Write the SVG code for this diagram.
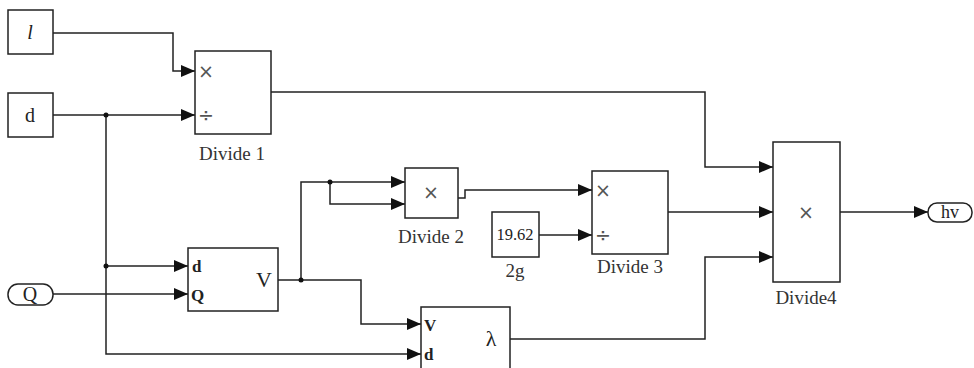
<svg xmlns="http://www.w3.org/2000/svg" width="974" height="368" viewBox="0 0 974 368">
<defs>
<marker id="arr" markerWidth="14" markerHeight="12" refX="14" refY="6" orient="auto" markerUnits="userSpaceOnUse">
<path d="M0,0 L14,6 L0,12 Z" fill="#111"/>
</marker>
</defs>
<style>
.blk{fill:#fff;stroke:#222;stroke-width:1.5}
.ln{fill:none;stroke:#222;stroke-width:1.5}
.t{font-family:"Liberation Serif","Times New Roman",serif;fill:#222}
.lab{font-size:19px;fill:#333}
.sym{font-family:"DejaVu Sans",sans-serif;font-size:19px;fill:#555}
.port{font-size:17px;font-weight:bold}
.dot{fill:#111}
</style>
<rect width="974" height="368" fill="#fff"/>
<g id="connectors">
<path class="ln" d="M53,33 L173,33 L173,71 L195,71" marker-end="url(#arr)"/>
<path class="ln" d="M53,115 L195,115" marker-end="url(#arr)"/>
<path class="ln" d="M106,115 L106,354 L421,354" marker-end="url(#arr)"/>
<path class="ln" d="M106,266 L188,266" marker-end="url(#arr)"/>
<path class="ln" d="M53,294 L188,294" marker-end="url(#arr)"/>
<path class="ln" d="M278,280 L361,280 L361,324 L421,324" marker-end="url(#arr)"/>
<path class="ln" d="M301,280 L301,182 L405,182" marker-end="url(#arr)"/>
<path class="ln" d="M330,182 L330,204 L405,204" marker-end="url(#arr)"/>
<path class="ln" d="M458,198 L465,198 L465,190 L592,190" marker-end="url(#arr)"/>
<path class="ln" d="M539,235 L592,235" marker-end="url(#arr)"/>
<path class="ln" d="M271,92 L705,92 L705,167 L773,167" marker-end="url(#arr)"/>
<path class="ln" d="M668,212 L773,212" marker-end="url(#arr)"/>
<path class="ln" d="M510,339 L705,339 L705,257 L773,257" marker-end="url(#arr)"/>
<path class="ln" d="M840,212 L928,212" marker-end="url(#arr)"/>
<circle class="dot" cx="106" cy="115" r="2.5"/>
<circle class="dot" cx="106" cy="266" r="2.5"/>
<circle class="dot" cx="301" cy="280" r="2.5"/>
<circle class="dot" cx="330" cy="182" r="2.5"/>
</g>
<g id="l">
<rect class="blk" x="8" y="10" width="45" height="44"/>
<text class="t" x="30" y="39" font-size="20" font-style="italic" text-anchor="middle">l</text>
</g>
<g id="d">
<rect class="blk" x="8" y="93" width="45" height="44"/>
<text class="t" x="30" y="122" font-size="20" text-anchor="middle">d</text>
</g>
<g id="Q">
<rect class="blk" x="8" y="284" width="45" height="21" rx="10"/>
<text class="t" x="30" y="301" font-size="20" text-anchor="middle">Q</text>
</g>
<g id="divide1">
<rect class="blk" x="195" y="51" width="76" height="83"/>
<text class="sym" x="198" y="78">×</text>
<text class="sym" x="198" y="122">÷</text>
<text class="t lab" x="232" y="160" text-anchor="middle">Divide 1</text>
</g>
<g id="vblock">
<rect class="blk" x="188" y="248" width="90" height="63"/>
<text class="t port" x="192" y="272">d</text>
<text class="t port" x="191" y="301">Q</text>
<text class="t" x="264" y="287" font-size="22" text-anchor="middle">V</text>
</g>
<g id="divide2">
<rect class="blk" x="405" y="168" width="53" height="50"/>
<text class="sym" x="431" y="199" text-anchor="middle">×</text>
<text class="t lab" x="431" y="243" text-anchor="middle">Divide 2</text>
</g>
<g id="const2g">
<rect class="blk" x="492" y="212" width="47" height="45"/>
<text class="t" x="515" y="240" font-size="16.5" text-anchor="middle">19.62</text>
<text class="t lab" x="515" y="277" text-anchor="middle">2g</text>
</g>
<g id="divide3">
<rect class="blk" x="592" y="171" width="76" height="83"/>
<text class="sym" x="595" y="197">×</text>
<text class="sym" x="595" y="242">÷</text>
<text class="t lab" x="630" y="273" text-anchor="middle">Divide 3</text>
</g>
<g id="lambda">
<rect class="blk" x="421" y="307" width="89" height="70"/>
<text class="t port" x="424" y="331">V</text>
<text class="t port" x="424" y="360">d</text>
<text class="t" x="491" y="346" font-size="22" text-anchor="middle">λ</text>
</g>
<g id="divide4">
<rect class="blk" x="773" y="142" width="67" height="140"/>
<text class="sym" x="806" y="219" text-anchor="middle">×</text>
<text class="t lab" x="806" y="304" text-anchor="middle">Divide4</text>
</g>
<g id="hv">
<rect class="blk" x="928" y="203" width="44" height="19" rx="9"/>
<text class="t" x="950" y="218" font-size="18" text-anchor="middle">hv</text>
</g>
</svg>
